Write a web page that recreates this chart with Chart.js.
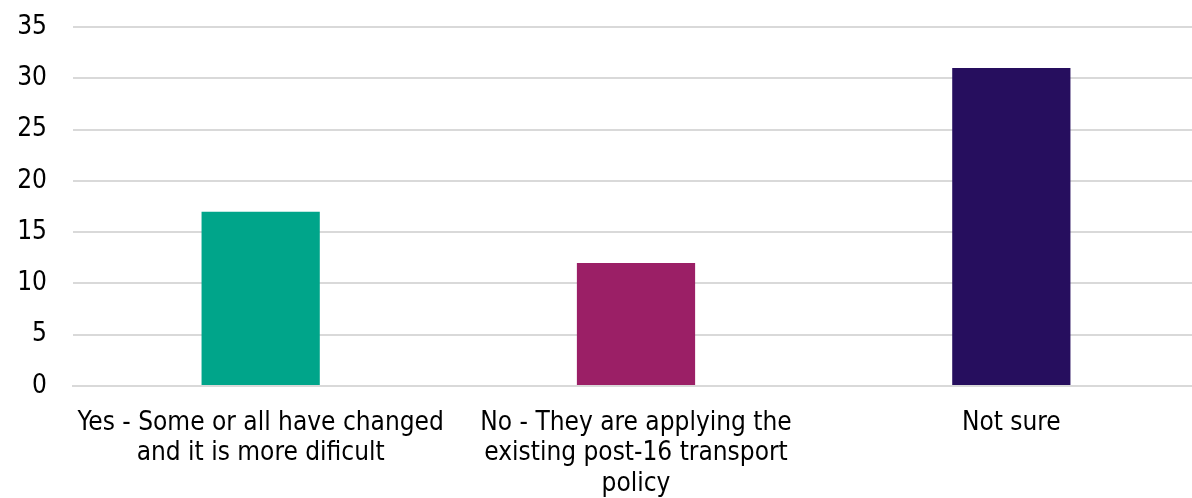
<!DOCTYPE html>
<html>
<head>
<meta charset="utf-8">
<script src="https://cdn.jsdelivr.net/npm/chart.js@4"></script>
<style>
  html, body { margin: 0; padding: 0; background: #fff; overflow: hidden; }
  #wrap { width: 1199px; height: 498px; }
</style>
</head>
<body>
<div id="wrap"><canvas id="myChart"></canvas></div>
<script>
// answers and counts
var categories = [
  ['Yes - Some or all have changed', 'and it is more dificult'],
  ['No - They are applying the', 'existing post-16 transport', 'policy'],
  'Not sure'
];
var counts = [17, 12, 31];
var barColors = ['#00a58a', '#9b1f66', '#260e5e'];
var yTicks = [0, 5, 10, 15, 20, 25, 30, 35];

var tickFont = { family: 'DejaVu Sans Condensed', size: 26, lineHeight: 1.17 };

const data = {
  labels: categories,
  datasets: [{
    data: counts,
    backgroundColor: barColors,
    borderWidth: 0,
    categoryPercentage: 1,
    barPercentage: 0.315
  }]
};

const config = {
  type: 'bar',
  data: data,
  options: {
    responsive: true,
    maintainAspectRatio: false,
    animation: false,
    layout: { padding: { top: 27, left: 0, right: 0, bottom: 0 } },
    plugins: {
      legend: { display: false },
      tooltip: { enabled: false }
    },
    scales: {
      x: {
        grid: { display: false, drawTicks: false },
        border: { color: '#d9d9d9', width: 2 },
        ticks: {
          color: '#000',
          font: tickFont,
          padding: 22,
          maxRotation: 0,
          autoSkip: false
        },
        afterFit: function (scale) { scale.height = 112; }
      },
      y: {
        min: 0,
        max: 35,
        afterBuildTicks: function (scale) {
          scale.ticks = yTicks.map(function (v) { return { value: v }; });
        },
        grid: { color: '#d9d9d9', lineWidth: 2, drawTicks: false },
        border: { display: false },
        ticks: {
          color: '#000',
          font: tickFont,
          padding: 26
        },
        afterFit: function (scale) {
          scale.width = 73;
          scale.paddingTop = 0;
          scale.paddingBottom = 0;
        }
      }
    }
  }
};

const myChart = new Chart(document.getElementById('myChart'), config);
</script>
</body>
</html>
